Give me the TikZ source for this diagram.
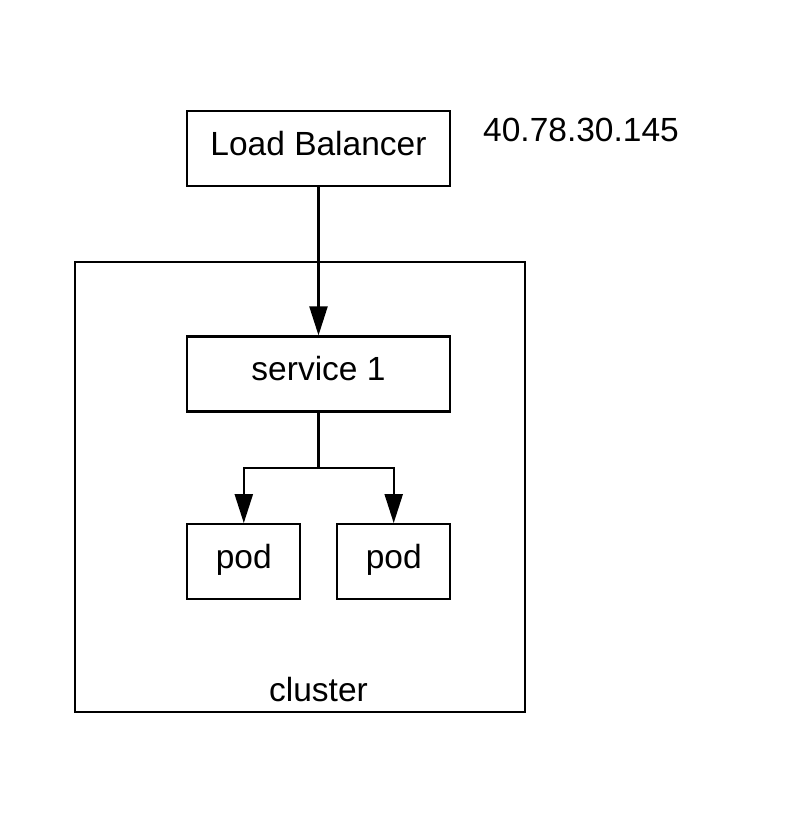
\documentclass[tikz,border=0pt]{standalone}
\usepackage{fontspec}
\setmainfont{Liberation Sans}
\usetikzlibrary{arrows.meta}
\begin{document}
\begin{tikzpicture}[x=1pt,y=-1pt,
  every node/.style={font=\fontsize{33.5}{40}\selectfont, text height=23.5pt, text depth=10pt},
  box/.style={draw, line width=2.2pt, inner sep=0pt, minimum width=263pt, minimum height=75pt},
  podbox/.style={draw, line width=1.8pt, inner sep=0pt, minimum width=113pt, minimum height=75pt},
  plain/.style={inner sep=0pt},
  conn/.style={line width=2.2pt},
  arr/.style={conn, -{Triangle[length=29pt,width=18pt]}}]
\useasboundingbox (0,0) rectangle (788,825);
\node[draw, line width=2.2pt, inner sep=0pt, minimum width=450pt, minimum height=450pt] (cluster) at (300,487) {};
\node[box] (lb) at (318.5,148.5) {Load Balancer};
\node[plain, anchor=west] (ip) at (483,134.5) {40.78.30.145};
\node[box] (svc) at (318.5,374) {service 1};
\node[podbox] (pod1) at (243.8,561.5) {pod};
\node[podbox] (pod2) at (393.7,561.5) {pod};
\node[plain] (cl) at (318.5,695) {cluster};
\coordinate (j) at (318.5,467.7);
\draw[arr] (lb.south) -- (svc.north);
\draw[conn] (svc.south) -- (j);
\draw[arr] (j) -| (pod1.north);
\draw[arr] (j) -| (pod2.north);
\end{tikzpicture}
\end{document}
